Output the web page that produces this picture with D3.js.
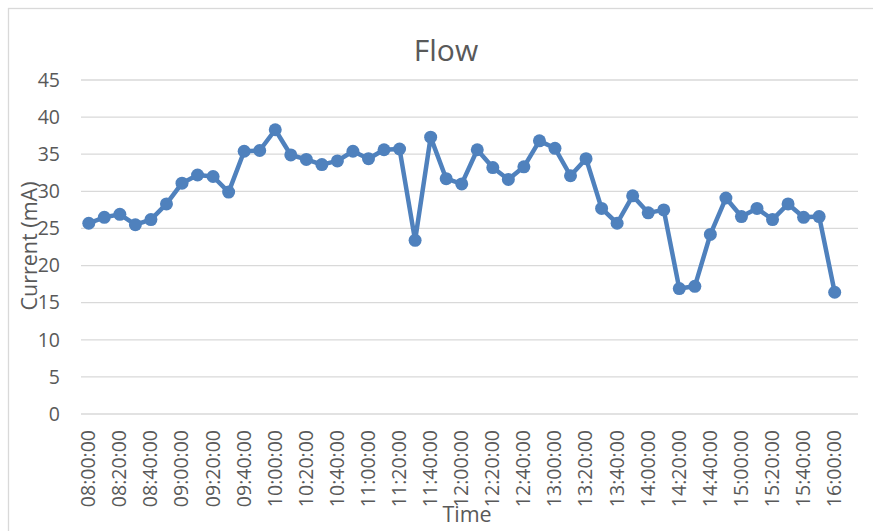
<!DOCTYPE html>
<html lang="en">
<head>
  <meta charset="utf-8">
  <title>Flow</title>
  <script src="https://d3js.org/d3.v7.min.js"></script>
  <style>
  body { margin: 0; background: #fff; }
  svg { font-family: "Open Sans", sans-serif; }
  </style>
</head>
<body>
  <script>
  // 10-minute samples, 08:00 to 16:00 (the last slot 16:10 is empty, as in the sheet)
  var times = [
    "08:00:00","08:10:00","08:20:00","08:30:00","08:40:00","08:50:00",
    "09:00:00","09:10:00","09:20:00","09:30:00","09:40:00","09:50:00",
    "10:00:00","10:10:00","10:20:00","10:30:00","10:40:00","10:50:00",
    "11:00:00","11:10:00","11:20:00","11:30:00","11:40:00","11:50:00",
    "12:00:00","12:10:00","12:20:00","12:30:00","12:40:00","12:50:00",
    "13:00:00","13:10:00","13:20:00","13:30:00","13:40:00","13:50:00",
    "14:00:00","14:10:00","14:20:00","14:30:00","14:40:00","14:50:00",
    "15:00:00","15:10:00","15:20:00","15:30:00","15:40:00","15:50:00",
    "16:00:00","16:10:00"
  ];
  var current = [
    25.7, 26.5, 26.9, 25.5, 26.2, 28.3, 31.1, 32.2, 32.0, 29.9,
    35.4, 35.5, 38.3, 34.9, 34.3, 33.6, 34.1, 35.4, 34.4, 35.6,
    35.7, 23.4, 37.3, 31.7, 31.0, 35.6, 33.2, 31.6, 33.3, 36.8,
    35.8, 32.1, 34.4, 27.7, 25.7, 29.4, 27.1, 27.5, 16.9, 17.2,
    24.2, 29.1, 26.6, 27.7, 26.2, 28.3, 26.5, 26.6, 16.4
  ];
  var yTicks = [0, 5, 10, 15, 20, 25, 30, 35, 40, 45];
  var xLabels = times.filter(function(d, i) { return i % 2 === 0 && i < current.length; });

  var width = 873, height = 531;
  var margin = {top: 80, right: 15, bottom: 117, left: 81};
  var textColor = "#595959";
  var gridColor = "#d9d9d9";
  var lineColor = "#4f81bd";

  var svg = d3.select("body").append("svg")
    .attr("width", width)
    .attr("height", height);

  // chart area border (runs off the right and bottom of the picture)
  svg.append("rect")
    .attr("x", 8.5).attr("y", 8.5)
    .attr("width", 900).attr("height", 600)
    .attr("fill", "none")
    .attr("stroke", gridColor)
    .attr("stroke-width", 1.3);

  var x = d3.scaleBand()
    .domain(times)
    .range([margin.left, 858]);

  var y = d3.scaleLinear()
    .domain([0, 45])
    .range([414, 80]);

  // gridlines
  svg.append("g")
    .selectAll("line")
    .data(yTicks)
    .enter().append("line")
    .attr("x1", margin.left)
    .attr("x2", 858)
    .attr("y1", function(d) { return y(d); })
    .attr("y2", function(d) { return y(d); })
    .attr("stroke", gridColor)
    .attr("stroke-width", 1.3);

  // y axis labels
  var yAxis = d3.axisLeft(y).tickValues(yTicks).tickSize(0).tickPadding(21);
  var gy = svg.append("g")
    .attr("transform", "translate(" + margin.left + ",0)")
    .call(yAxis);
  gy.select(".domain").remove();
  gy.selectAll("text")
    .attr("fill", textColor)
    .style("font-size", "19.5px")
    .style("font-family", "'Open Sans', sans-serif");

  // x axis labels, every other slot, rotated
  var xAxis = d3.axisBottom(x).tickValues(xLabels).tickSize(0).tickPadding(0);
  var gx = svg.append("g")
    .attr("transform", "translate(0," + 414 + ")")
    .call(xAxis);
  gx.select(".domain").remove();
  gx.selectAll("text")
    .attr("fill", textColor)
    .style("font-size", "19.5px")
    .style("font-family", "'Open Sans', sans-serif")
    .attr("transform", "rotate(-90)")
    .attr("x", -16)
    .attr("y", 0)
    .attr("dy", "0.33em")
    .attr("text-anchor", "end");

  // series
  var pts = current.map(function(v, i) { return {t: times[i], v: v}; });
  var cx = function(d) { return x(d.t) + x.bandwidth() / 2; };

  svg.append("path")
    .datum(pts)
    .attr("d", d3.line().x(cx).y(function(d) { return y(d.v); }))
    .attr("fill", "none")
    .attr("stroke", lineColor)
    .attr("stroke-width", 4.5)
    .attr("stroke-linejoin", "round");

  svg.append("g")
    .selectAll("circle")
    .data(pts)
    .enter().append("circle")
    .attr("cx", cx)
    .attr("cy", function(d) { return y(d.v); })
    .attr("r", 6.5)
    .attr("fill", lineColor);

  // titles
  svg.append("text")
    .attr("x", 446)
    .attr("y", 61)
    .attr("text-anchor", "middle")
    .attr("fill", textColor)
    .style("font-size", "30px")
    .text("Flow");

  svg.append("text")
    .attr("transform", "translate(37,246) rotate(-90)")
    .attr("text-anchor", "middle")
    .attr("fill", textColor)
    .style("font-size", "21.5px")
    .text("Current (mA)");

  svg.append("text")
    .attr("x", 467)
    .attr("y", 522)
    .attr("text-anchor", "middle")
    .attr("fill", textColor)
    .style("font-size", "21.5px")
    .text("Time");
  </script>
</body>
</html>
